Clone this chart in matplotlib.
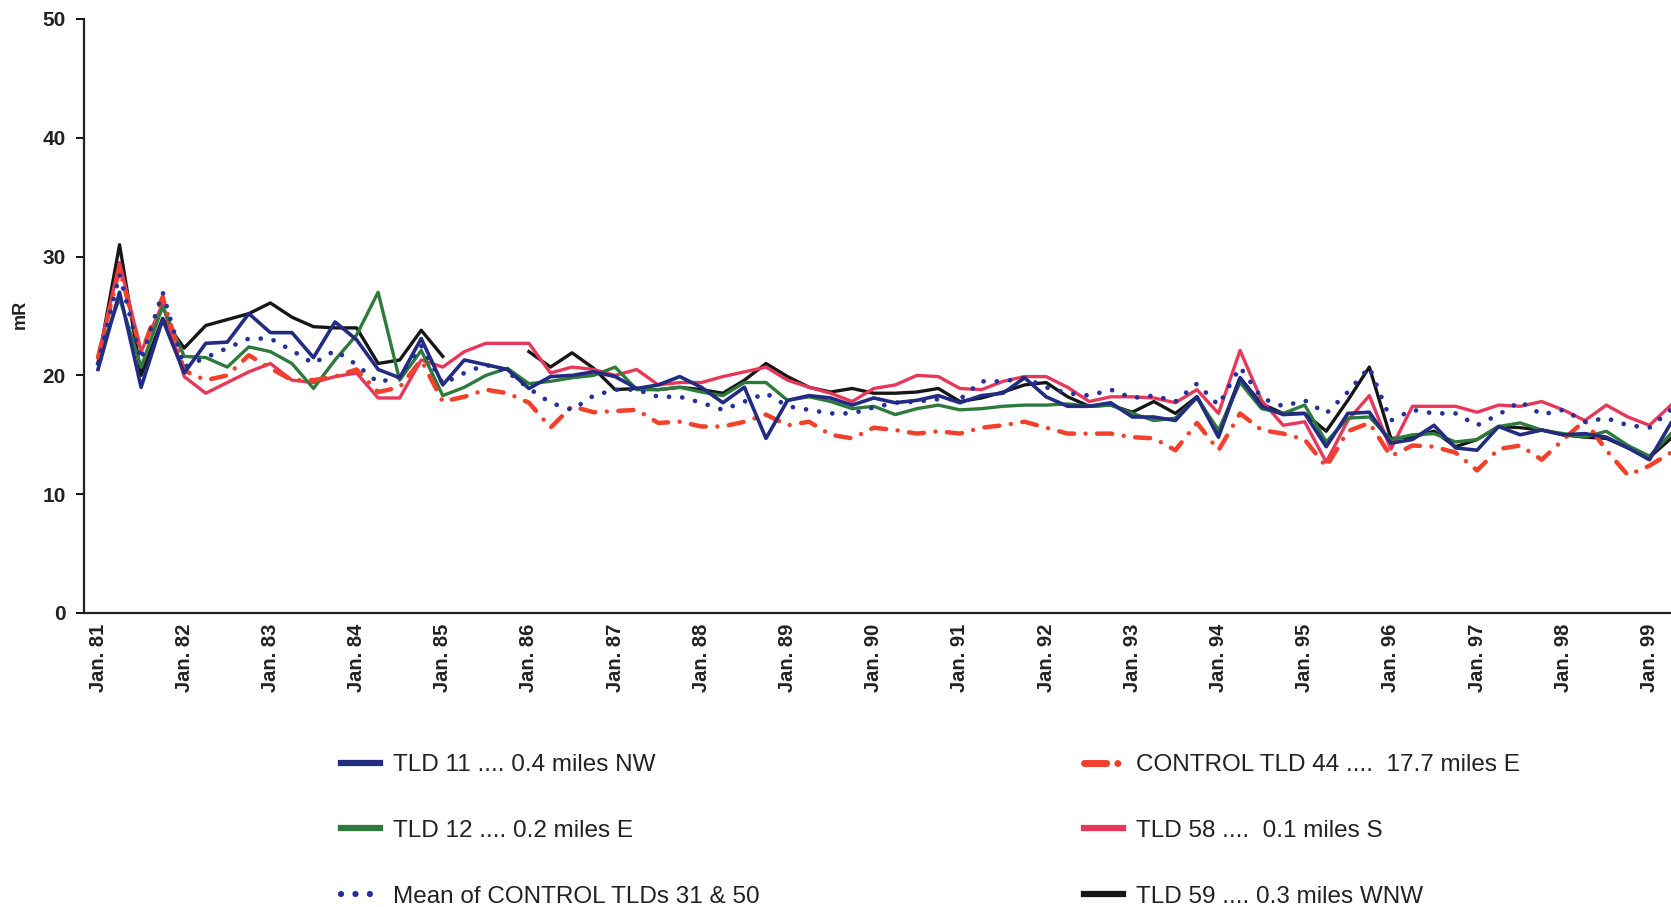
import numpy as np
import matplotlib
matplotlib.use("Agg")
import matplotlib.pyplot as plt
from matplotlib.lines import Line2D

plt.rcParams["font.family"] = ["Liberation Sans", "DejaVu Sans"]

# quarterly readings, Jan. 81 .. Apr. 99
years = [f"Jan. {y}" for y in range(81, 100)]

tld11 = [20.5, 27.0, 19.0, 24.7, 20.2, 22.7, 22.8, 25.2, 23.6, 23.6, 21.5, 24.5,
         23.0, 20.5, 19.8, 23.1, 19.2, 21.3, 20.9, 20.5, 18.9, 19.9, 20.0, 20.3,
         19.9, 18.9, 19.2, 19.9, 19.0, 17.7, 19.0, 14.7, 17.9, 18.3, 18.1, 17.5,
         18.1, 17.7, 17.9, 18.3, 17.7, 18.3, 18.5, 19.8, 18.2, 17.4, 17.4, 17.7,
         16.5, 16.5, 16.2, 18.2, 14.8, 19.8, 17.4, 16.7, 16.8, 14.0, 16.8, 16.9,
         14.3, 14.6, 15.8, 13.9, 13.7, 15.7, 15.0, 15.4, 15.0, 15.1, 14.8, 13.9,
         12.9, 16.0]

tld12 = [21.5, 26.5, 20.7, 25.8, 21.6, 21.5, 20.7, 22.4, 22.0, 21.0, 18.9, 21.3,
         23.4, 27.0, 19.6, 22.1, 18.3, 19.0, 20.0, 20.6, 19.3, 19.5, 19.8, 20.0,
         20.7, 18.8, 18.8, 19.0, 18.6, 18.3, 19.4, 19.4, 17.9, 18.2, 17.8, 17.2,
         17.4, 16.7, 17.2, 17.5, 17.1, 17.2, 17.4, 17.5, 17.5, 17.6, 17.4, 17.5,
         16.8, 16.2, 16.4, 18.1, 15.4, 19.4, 17.2, 16.8, 17.5, 14.4, 16.4, 16.5,
         14.6, 15.0, 15.1, 14.4, 14.6, 15.7, 16.0, 15.4, 15.1, 14.8, 15.3, 14.1,
         13.2, 15.1]

mean_31_50 = [21.0, 28.5, 21.3, 27.0, 20.7, 21.5, 22.3, 23.1, 23.1, 22.1, 21.0, 22.1,
              20.9, 19.4, 19.9, 22.5, 19.3, 20.2, 20.9, 20.3, 18.9, 17.7, 17.1, 18.3,
              18.8, 18.8, 18.2, 18.2, 17.7, 17.1, 17.8, 18.5, 17.4, 17.1, 16.8, 16.8,
              17.3, 17.7, 17.8, 18.0, 18.0, 19.5, 19.5, 19.8, 19.0, 18.5, 18.3, 18.8,
              18.1, 18.3, 17.8, 19.3, 17.5, 20.7, 18.1, 17.4, 17.9, 16.8, 18.6, 20.7,
              16.2, 17.1, 16.8, 16.8, 15.8, 16.7, 17.8, 16.7, 17.1, 16.1, 16.4, 15.8,
              15.6, 17.1]

control44 = [21.5, 29.0, 21.9, 26.6, 20.4, 19.6, 20.0, 21.7, 20.6, 19.6, 19.6, 19.9,
             20.5, 18.6, 19.0, 21.3, 17.8, 18.2, 18.8, 18.5, 17.7, 15.6, 17.4, 16.9,
             17.0, 17.1, 16.0, 16.1, 15.7, 15.7, 16.1, 16.7, 15.8, 16.1, 15.0, 14.7,
             15.6, 15.4, 15.1, 15.3, 15.1, 15.6, 15.8, 16.1, 15.6, 15.1, 15.1, 15.1,
             14.8, 14.7, 13.7, 16.0, 13.7, 16.8, 15.4, 15.1, 14.6, 12.3, 15.3, 16.0,
             13.2, 14.1, 14.0, 13.5, 12.0, 13.8, 14.1, 12.9, 14.6, 16.2, 13.7, 11.6,
             12.4, 13.5]

tld58 = [21.5, 29.5, 22.0, 26.0, 19.9, 18.5, 19.4, 20.3, 21.0, 19.6, 19.4, 19.9,
         20.2, 18.1, 18.1, 21.3, 20.7, 22.0, 22.7, 22.7, 22.7, 20.2, 20.7, 20.5,
         20.0, 20.5, 19.2, 19.4, 19.4, 19.9, 20.3, 20.7, 19.6, 19.0, 18.5, 17.8,
         18.9, 19.2, 20.0, 19.9, 18.9, 18.8, 19.5, 19.9, 19.9, 19.0, 17.8, 18.2,
         18.2, 18.1, 17.7, 18.8, 16.8, 22.1, 17.9, 15.8, 16.1, 12.7, 16.2, 18.3,
         13.8, 17.4, 17.4, 17.4, 16.9, 17.5, 17.4, 17.8, 17.1, 16.2, 17.5, 16.5,
         15.8, 17.5]

tld59 = [21.0, 31.0, 20.0, 24.8, 22.3, 24.2, 24.7, 25.2, 26.1, 24.9, 24.1, 24.0,
         24.0, 21.0, 21.3, 23.8, 21.6, np.nan, np.nan, np.nan, 22.0, 20.7, 21.9, 20.6,
         18.8, 18.9, 18.8, 19.0, 18.8, 18.5, 19.6, 21.0, 19.9, 19.0, 18.6, 18.9,
         18.5, 18.5, 18.6, 18.9, 17.8, 18.1, 18.6, 19.2, 19.4, 18.2, 17.4, 17.5,
         16.9, 17.8, 16.8, 18.2, 15.1, 19.8, 17.6, 16.8, 16.8, 15.3, 17.9, 20.7,
         14.7, 14.8, 15.3, 14.0, 14.6, 15.7, 15.6, 15.4, 15.0, 14.8, 14.7, 13.9,
         13.1, 14.7]

navy = "#222c82"
green = "#2e7a3c"
pink = "#e8385a"
red = "#f2402a"
black = "#161616"
dots = "#25309a"

q = np.arange(len(tld11))

fig = plt.figure(figsize=(16.71, 9.07), dpi=100)
ax = fig.add_axes([84 / 1671, 294 / 907, 1 - 84 / 1671, 594 / 907])

ax.plot(q, tld59, color=black, lw=2.4, zorder=2)
ax.plot(q, tld58, color=pink, lw=2.4, zorder=3)
ax.plot(q, tld12, color=green, lw=2.4, zorder=3)
ax.plot(q, control44, color=red, lw=3.2, linestyle=(0, (3.4, 2.6, 0.01, 2.6)),
        dash_capstyle="round", zorder=4)
ax.plot(q, mean_31_50, color=dots, lw=3.4, linestyle=(0, (0.01, 2.8)),
        dash_capstyle="round", zorder=5)
ax.plot(q, tld11, color=navy, lw=2.6, zorder=6)

ax.set_xlim(-0.65, len(q) - 1)
ax.set_ylim(0, 50)
ax.set_yticks(range(0, 51, 10))
ax.set_xticks(np.arange(0, len(q), 4))
ax.set_xticklabels(years, rotation=90, fontweight="bold", fontsize=14.5, color="#222222")
for lab in ax.get_yticklabels():
    lab.set_fontweight("bold")
    lab.set_fontsize(15)
    lab.set_color("#222222")
ax.tick_params(axis="y", direction="out", length=6, width=1.3, pad=7)
ax.tick_params(axis="x", length=0, pad=8)

for side in ["top", "right"]:
    ax.spines[side].set_visible(False)
for side in ["left", "bottom"]:
    ax.spines[side].set_linewidth(1.6)
    ax.spines[side].set_color("#222222")

fig.text(20 / 1671, 1 - 314 / 907, "mR", rotation=90, ha="center", va="center",
         fontweight="bold", fontsize=13, color="#222222")

# legend in two columns below the plot
h_left = [
    Line2D([], [], color=navy, lw=4.5),
    Line2D([], [], color=green, lw=4.5),
    Line2D([], [], color=dots, lw=4.5, linestyle=(0, (0.01, 2.3)), dash_capstyle="round"),
]
l_left = ["TLD 11 .... 0.4 miles NW", "TLD 12 .... 0.2 miles E", "Mean of CONTROL TLDs 31 & 50"]
h_right = [
    Line2D([], [], color=red, lw=5, linestyle=(0, (3.2, 1.6, 0.01, 1.6)), dash_capstyle="round"),
    Line2D([], [], color=pink, lw=4.5),
    Line2D([], [], color=black, lw=4.5),
]
l_right = ["CONTROL TLD 44 ....  17.7 miles E", "TLD 58 ....  0.1 miles S", "TLD 59 .... 0.3 miles WNW"]

leg_kw = dict(loc="upper left", frameon=False, fontsize=17.5, labelspacing=1.8,
              handlelength=1.6, handletextpad=0.53, borderpad=0, borderaxespad=0,
              labelcolor="#222222")
fig.legend(h_left, l_left, bbox_to_anchor=(341 / 1671, 1 - 754 / 907), **leg_kw)
fig.legend(h_right, l_right, bbox_to_anchor=(1084 / 1671, 1 - 754 / 907), **leg_kw)

fig.savefig("out.png", dpi=100)
